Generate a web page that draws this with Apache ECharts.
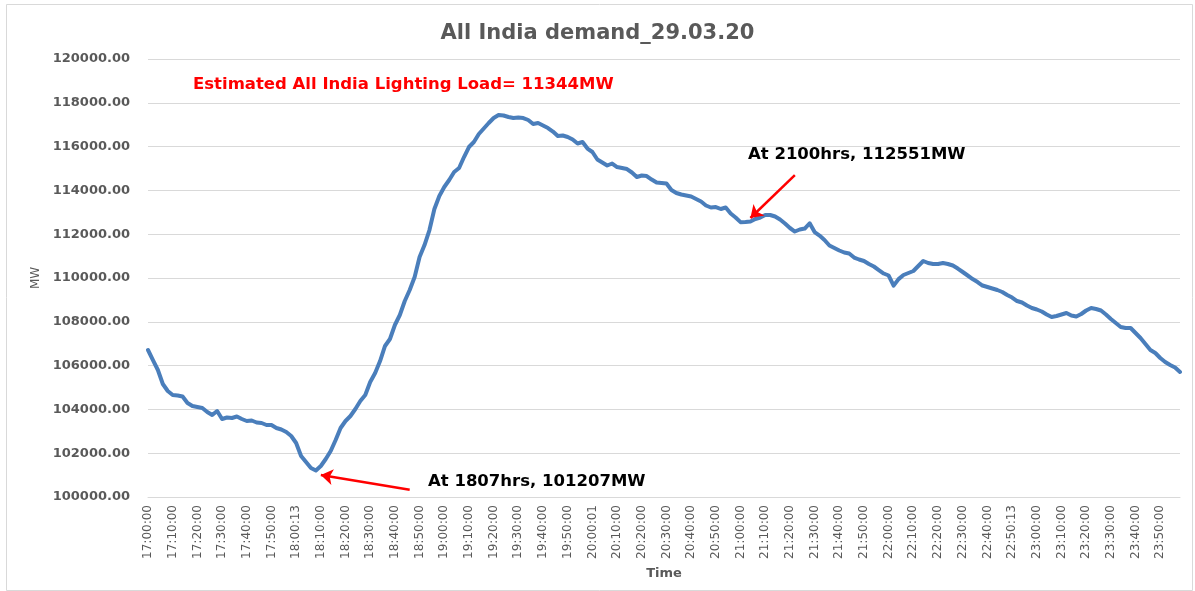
<!DOCTYPE html>
<html>
<head>
<meta charset="utf-8">
<title>All India demand_29.03.20</title>
<script src="https://cdn.jsdelivr.net/npm/echarts@6/dist/echarts.min.js"></script>
<style>
  html, body { margin: 0; padding: 0; background: #fff; }
  #main { width: 1195px; height: 591px; }
</style>
</head>
<body>
<div id="main"></div>
<script>
// labels shown on the time axis, one every 10 minutes
const tickLabels = [
  '17:00:00', '17:10:00', '17:20:00', '17:30:00', '17:40:00', '17:50:00',
  '18:00:13', '18:10:00', '18:20:00', '18:30:00', '18:40:00', '18:50:00',
  '19:00:00', '19:10:00', '19:20:00', '19:30:00', '19:40:00', '19:50:00',
  '20:00:01', '20:10:00', '20:20:00', '20:30:00', '20:40:00', '20:50:00',
  '21:00:00', '21:10:00', '21:20:00', '21:30:00', '21:40:00', '21:50:00',
  '22:00:00', '22:10:00', '22:20:00', '22:30:00', '22:40:00', '22:50:13',
  '23:00:00', '23:10:00', '23:20:00', '23:30:00', '23:40:00', '23:50:00'
];

// all India demand (MW), one reading every 2 minutes from 17:00
const demand = [
  106712, 106255, 105799, 105160, 104840, 104657, 104634, 104589, 104292, 104155,
  104109, 104064, 103881, 103744, 103927, 103561, 103630, 103607, 103676, 103561,
  103470, 103493, 103402, 103379, 103288, 103288, 103151, 103082, 102968, 102785,
  102466, 101872, 101598, 101324, 101207, 101415, 101735, 102100, 102603, 103151,
  103470, 103698, 104018, 104383, 104657, 105251, 105662, 106210, 106895, 107214,
  107854, 108310, 108949, 109452, 110045, 110958, 111506, 112191, 113150, 113744,
  114155, 114474, 114840, 115022, 115524, 115981, 116209, 116575, 116826, 117077,
  117305, 117442, 117419, 117351, 117305, 117328, 117305, 117214, 117031, 117077,
  116963, 116849, 116689, 116483, 116506, 116438, 116324, 116141, 116209, 115912,
  115753, 115410, 115273, 115136, 115228, 115068, 115022, 114976, 114817, 114611,
  114680, 114657, 114497, 114360, 114337, 114314, 114018, 113881, 113812, 113767,
  113721, 113607, 113493, 113310, 113219, 113241, 113150, 113219, 112944, 112762,
  112551, 112556, 112579, 112693, 112762, 112876, 112876, 112808, 112671, 112488,
  112283, 112123, 112214, 112260, 112500, 112100, 111940, 111735, 111483, 111369,
  111255, 111164, 111118, 110935, 110844, 110776, 110639, 110525, 110365, 110205,
  110114, 109650, 109950, 110137, 110228, 110319, 110547, 110776, 110684, 110639,
  110639, 110684, 110639, 110570, 110433, 110274, 110114, 109954, 109817, 109657,
  109589, 109520, 109452, 109360, 109223, 109109, 108949, 108881, 108744, 108630,
  108561, 108470, 108333, 108219, 108264, 108333, 108401, 108287, 108242, 108356,
  108516, 108630, 108584, 108516, 108333, 108128, 107945, 107762, 107717, 107717,
  107488, 107260, 106986, 106712, 106575, 106347, 106164, 106027, 105913, 105708
];

// annotation arrows, [category index, MW] for tail and head
const arrowLow = [[53, 100330], [35, 101000]];
const arrowHigh = [[131, 114700], [122, 112740]];

// build the category list: named tick every 5th reading
let categories = [];
for (let i = 0; i < demand.length; i++) {
  if (i % 5 === 0) {
    categories.push(tickLabels[i / 5]);
  } else {
    let m = 17 * 60 + i * 2;
    let hh = Math.floor(m / 60), mm = m % 60;
    categories.push(hh + ':' + (mm < 10 ? '0' : '') + mm + ':00');
  }
}

const FONT = '"DejaVu Sans", "Liberation Sans", sans-serif';
let myChart = echarts.init(document.getElementById('main'));

myChart.setOption({
  animation: false,
  backgroundColor: '#fff',
  textStyle: { fontFamily: FONT },
  title: {
    text: 'All India demand_29.03.20',
    left: 'center',
    top: 18,
    textStyle: { fontSize: 21, fontWeight: 'bold', color: '#595959', fontFamily: FONT }
  },
  grid: { left: 148, right: 15, top: 59, bottom: 94 },
  xAxis: {
    type: 'category',
    data: categories,
    boundaryGap: false,
    name: 'Time',
    nameLocation: 'middle',
    nameGap: 70,
    nameTextStyle: { fontSize: 13, fontWeight: 'bold', color: '#595959' },
    axisLine: { lineStyle: { color: '#d9d9d9' } },
    axisTick: { show: false },
    axisLabel: {
      interval: 4,
      rotate: 90,
      fontSize: 12,
      color: '#595959',
      margin: 8
    },
    splitLine: { show: false }
  },
  yAxis: {
    type: 'value',
    min: 100000,
    max: 120000,
    interval: 2000,
    name: 'MW',
    nameLocation: 'middle',
    nameGap: 104,
    nameTextStyle: { fontSize: 12, color: '#595959' },
    axisLine: { show: false },
    axisTick: { show: false },
    axisLabel: {
      fontSize: 13,
      fontWeight: 'bold',
      color: '#595959',
      margin: 18,
      formatter: function (v) { return v.toFixed(2); }
    },
    splitLine: { lineStyle: { color: '#d9d9d9', width: 1 } }
  },
  graphic: [
    {
      type: 'rect',
      left: 4, top: 2,
      shape: { width: 1186, height: 586 },
      style: { fill: 'none', stroke: '#d9d9d9', lineWidth: 1 },
      silent: true
    },
    {
      type: 'text',
      left: 193, top: 76,
      style: { text: 'Estimated All India Lighting Load= 11344MW', fill: '#ff0000',
               font: 'bold 16.5px ' + FONT }
    },
    {
      type: 'text',
      left: 428, top: 473,
      style: { text: 'At 1807hrs, 101207MW', fill: '#000', font: 'bold 16.5px ' + FONT }
    },
    {
      type: 'text',
      left: 748, top: 146,
      style: { text: 'At 2100hrs, 112551MW', fill: '#000', font: 'bold 16.5px ' + FONT }
    }
  ],
  series: [{
    type: 'line',
    data: demand,
    showSymbol: false,
    symbol: 'none',
    lineStyle: { color: '#4a7ebb', width: 4, join: 'round', cap: 'round' },
    markLine: {
      silent: true,
      symbol: ['none', 'arrow'],
      symbolSize: 12,
      label: { show: false },
      lineStyle: { color: '#ff0000', width: 2.5, type: 'solid' },
      data: [
        [{ coord: arrowLow[0] }, { coord: arrowLow[1] }],
        [{ coord: arrowHigh[0] }, { coord: arrowHigh[1] }]
      ]
    }
  }]
});
</script>
</body>
</html>
